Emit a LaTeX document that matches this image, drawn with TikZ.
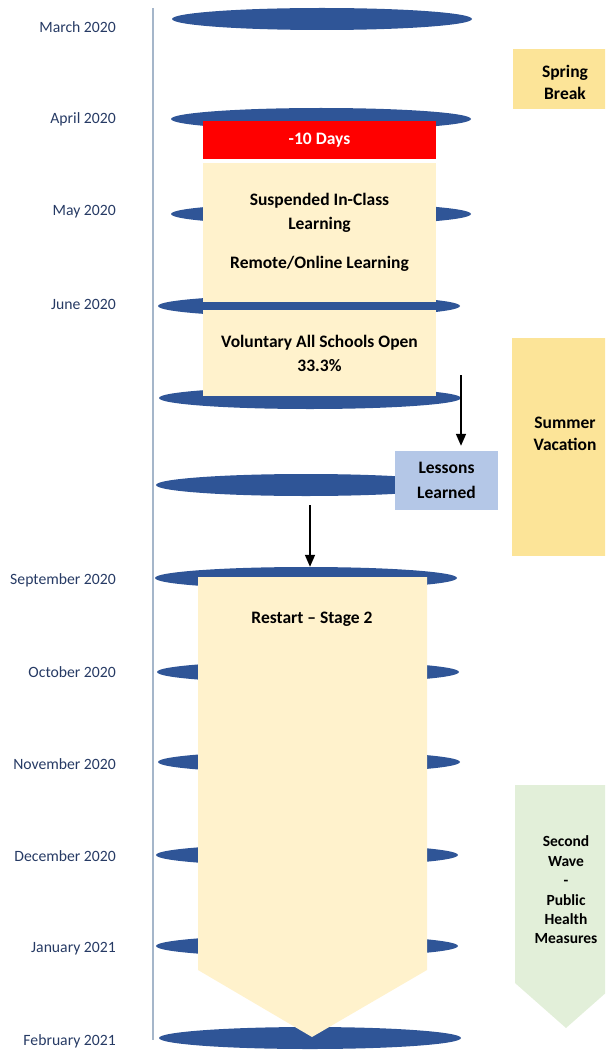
\documentclass[tikz,border=0pt]{standalone}
\usepackage{fontspec}
\setmainfont{Carlito}
\usetikzlibrary{positioning, shapes.geometric, arrows.meta, calc}
\definecolor{discblue}{RGB}{47,85,151}
\definecolor{cream}{RGB}{255,242,204}
\definecolor{sand}{RGB}{252,228,152}
\definecolor{mint}{RGB}{226,239,217}
\definecolor{skyblue}{RGB}{180,199,231}
\definecolor{monthtext}{RGB}{38,58,100}
\definecolor{axisgray}{RGB}{165,182,202}

\begin{document}
\begin{tikzpicture}[x=1pt, y=-1pt,
        % Node styles
        disc/.style={ellipse, fill=discblue, minimum height=22pt, inner sep=0pt},
        month/.style={anchor=east, inner sep=0pt, text=monthtext, font=\fontsize{15.7}{18}\selectfont},
        phase/.style={fill=cream, minimum width=233pt, inner sep=0pt, align=center, font=\fontsize{17.5}{24}\selectfont\bfseries},
        alert/.style={phase, fill=red, text=white},
        season/.style={fill=sand, minimum width=105pt, inner sep=0pt},
        seasontext/.style={align=center, font=\fontsize{17.5}{22}\selectfont\bfseries},
        note/.style={fill=skyblue, minimum width=103pt, minimum height=59pt, inner sep=0pt, align=center, font=\fontsize{17.5}{25}\selectfont\bfseries},
        % Arrow styles
        flow/.style={-{Triangle[length=12pt, width=10pt]}, line width=1.6pt},
    ]
    \useasboundingbox (0,0) rectangle (605,1051);
    \clip (0,0) rectangle (605,1051);

    % Time axis
    \draw[axisgray, line width=1.5pt] (153,8) -- (153,1040);

    % Month labels
    \foreach \name/\y [count=\i] in {March 2020/27, April 2020/119, May 2020/212, June 2020/304,
            September 2020/580, October 2020/672, November 2020/764, December 2020/856,
            January 2021/949, February 2021/1041} {
        \node[month] (month-\i) at (116,\y) {\name};
    }

    % Month discs
    \foreach \cx/\cy/\w [count=\i] in {322/19/300, 321/119/300, 321/214/300, 309/306/302,
            310/398/302, 306/485/300, 306/578/302, 308/672/302, 309/762/302,
            307/855/302, 307/946/302, 310/1038/302} {
        \node[disc, minimum width=\w] (disc-\i) at (\cx,\cy) {};
    }

    % Spring phase boxes
    \node[alert, minimum height=38pt] (tendays) at (319.5,140) {-10 Days};
    \node[phase, minimum height=139pt] (suspend) at (319.5,232.5)
        {Suspended In-Class\\Learning\\[15pt]Remote/Online Learning};
    \node[phase, minimum height=86pt] (voluntary) at (319.5,353)
        {Voluntary All Schools Open\\33.3\%};

    % Lessons learned
    \node[note] (lessons) at (446.5,480.5) {Lessons\\Learned};
    \coordinate (drop1) at (461,375);
    \draw[flow, shorten >=5pt] (drop1) -- (drop1 |- lessons.north);
    \coordinate (drop2) at (310,505);
    \draw[flow] (drop2) -- (drop2 |- disc-7.north);

    % Restart arrow
    \fill[cream] (198,577) -- (427,577) -- (427,970) -- (312,1037) -- (198,970) -- cycle;
    \node[font=\fontsize{17.5}{24}\selectfont\bfseries] (restart) at (312,619) {Restart \textendash{} Stage 2};

    % Seasons
    \node[season, minimum height=60pt] (spring) at (565.5,79) {};
    \node[seasontext] (springlbl) at (565,82) {Spring\\Break};
    \node[season, minimum height=218pt] (summer) at (564.5,447) {};
    \node[seasontext] (summerlbl) at (565,434) {Summer\\Vacation};

    % Second wave
    \fill[mint] (515,785) -- (617,785) -- (617,983) -- (566,1028) -- (515,983) -- cycle;
    \node[align=center, font=\fontsize{15.5}{19.4}\selectfont\bfseries] (wave) at (566,890)
        {Second\\Wave\\-\\Public\\Health\\Measures};
\end{tikzpicture}
\end{document}
